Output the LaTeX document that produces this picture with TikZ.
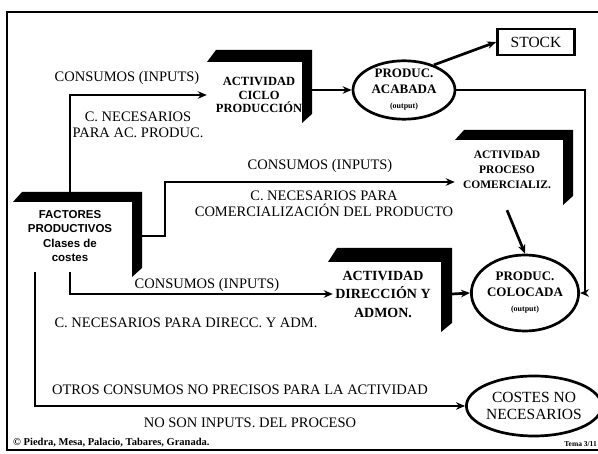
\documentclass[tikz,border=0pt]{standalone}
\usepackage{fontspec}
\setmainfont{Liberation Serif}
\newfontfamily\sansf{Liberation Sans}
\usetikzlibrary{arrows.meta,shapes.geometric}
\newcommand\lbar[6]{\fill ({#1+9},#3) -- (#2,#3) -- (#2,{#4-9}) -- ({#2-#6},#4) -- ({#2-#6},{#3+#5}) -- (#1,{#3+#5}) -- cycle;}
\begin{document}
\begin{tikzpicture}[x=1pt,y=-1pt,
  ln/.style={line width=2.7pt},
  arr/.style={ln,-{Stealth[length=9pt,width=7.5pt]}},
  lab/.style={font=\fontsize{14.5}{16}\selectfont,align=center,inner sep=0pt},
  act/.style={font=\bfseries\fontsize{12.5}{13.5}\selectfont,align=center,inner sep=0pt},
  ell/.style={ellipse,draw,ln,inner sep=0pt,align=center,font=\bfseries\fontsize{13}{15.5}\selectfont},
  outp/.style={font=\bfseries\fontsize{8}{9}\selectfont}
]
\useasboundingbox (0,0) rectangle (598,454);
% frame
\draw[ln] (598,12) -- (7,12) -- (7,450) -- (598,450);

% L-shaped boxes
\lbar{207}{312}{50}{123}{12}{10}
\lbar{13}{142}{192}{277}{10}{10}
\lbar{455}{573}{130}{205}{10}{10}
\lbar{328}{452}{248}{332}{14}{11}

% nodes
\node[act,minimum width=104] (ciclo) at (259,95) {ACTIVIDAD\\CICLO\\PRODUCCIÓN};
\node[align=center,inner sep=0pt,font=\sansf\bfseries\fontsize{11.5}{14.3}\selectfont,minimum width=116,minimum height=72] (factores) at (70,236) {FACTORES\\PRODUCTIVOS\\Clases de\\costes};
\node[act,font=\bfseries\fontsize{11.5}{15}\selectfont,minimum width=104,minimum height=80] (comercial) at (507,170) {ACTIVIDAD\\PROCESO\\COMERCIALIZ.};
\node[act,font=\bfseries\fontsize{14}{18.5}\selectfont,minimum width=100] (direccion) at (383,294) {ACTIVIDAD\\DIRECCIÓN Y\\ADMON.};
\node[ell,minimum width=102,minimum height=58] (acabada) at (404,90) {PRODUC.\\ACABADA\\{\bfseries\fontsize{8}{9}\selectfont (output)}};
\node[ell,minimum width=90,minimum height=76] (colocada) at (525,293) {PRODUC.\\COLOCADA\\{\bfseries\fontsize{8}{9}\selectfont (output)}};
\node[ell,font=\fontsize{15.5}{16.5}\selectfont,minimum width=108,minimum height=60] (costes) at (534,406) {COSTES NO\\NECESARIOS};
\node[draw,ln,minimum width=77,minimum height=26,font=\fontsize{15.5}{16}\selectfont] (stock) at (536,42) {STOCK};

% labels
\node[lab] (l1) at (127,78) {CONSUMOS (INPUTS)};
\node[lab] (l2) at (138,125) {C. NECESARIOS\\PARA AC. PRODUC.};
\node[lab] (l3) at (320,166) {CONSUMOS (INPUTS)};
\node[lab] (l4) at (324,204) {C. NECESARIOS PARA\\COMERCIALIZACIÓN DEL PRODUCTO};
\node[lab] (l5) at (207,285) {CONSUMOS (INPUTS)};
\node[lab] (l6) at (186,323) {C. NECESARIOS PARA DIRECC. Y ADM.};
\node[lab] (l7) at (240,390) {OTROS CONSUMOS NO PRECISOS PARA LA ACTIVIDAD};
\node[lab] (l8) at (250,423) {NO SON INPUTS. DEL PROCESO};
\node[font=\bfseries\fontsize{10.5}{10.5}\selectfont,inner sep=0pt,anchor=south west] (copy) at (13,447) {© Piedra, Mesa, Palacio, Tabares, Granada.};
\node[font=\bfseries\fontsize{7.5}{8}\selectfont,inner sep=0pt,anchor=south east] (tema) at (597,447) {Tema 3/11};

% connectors
\coordinate (c1) at (585,90);
\coordinate (c2) at (165,182);
\draw[arr] (factores.north) ++(0,-8) |- (ciclo.west);
\draw[arr] (ciclo.east |- acabada) -- (acabada);
\draw[arr] (acabada.40) -- (stock.west);
\draw[arr] (acabada.east) -- (c1) |- (colocada.east);
\draw[arr] ([xshift=14pt]factores.east) -| (c2) -- (comercial.west |- c2);
\draw[arr] (comercial.south) -- (colocada.north);
\draw[arr] (factores.south) |- (direccion.west);
\draw[arr] ([xshift=19pt]direccion.east) -- (colocada.west);
\draw[arr] ([xshift=-35pt]factores.south) |- (costes.west);
\end{tikzpicture}
\end{document}
